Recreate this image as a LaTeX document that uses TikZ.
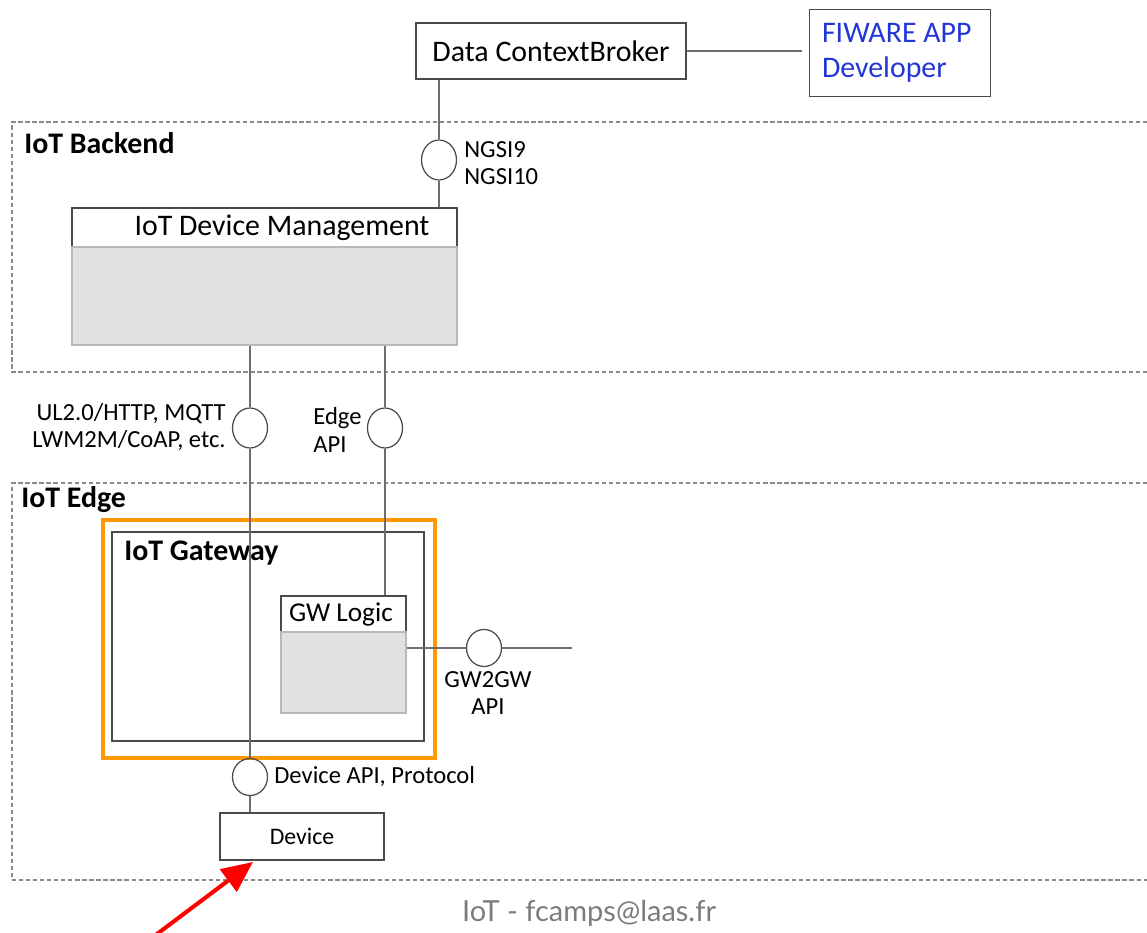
\documentclass[tikz,border=0pt]{standalone}
\usepackage{fontspec}
\setmainfont{Carlito}
\newfontfamily\footfont{Lato}
\usepackage{tikz}
\usetikzlibrary{arrows.meta,shapes.geometric,calc}
\definecolor{boxline}{HTML}{4A4A4A}
\definecolor{wire}{HTML}{6E6E6E}
\definecolor{zoneline}{HTML}{8A8A8A}
\definecolor{bodygray}{HTML}{E1E1E1}
\definecolor{bodyline}{HTML}{B8B8B8}
\definecolor{gwOrange}{HTML}{FF9A00}
\definecolor{appblue}{HTML}{2236D8}
\definecolor{footgray}{HTML}{7C7C7C}

\begin{document}
\begin{tikzpicture}[x=0.02cm,y=-0.02cm,
		box/.style={draw=boxline,line width=0.9pt,inner sep=0pt,font=\fontsize{17}{20}\selectfont},
		body/.style={box,draw=bodyline,fill=bodygray},
		itf/.style={ellipse,draw=boxline,line width=0.7pt,inner sep=0pt,minimum width=0.7cm,minimum height=0.8cm},
		lbl/.style={inner sep=0pt,font=\fontsize{14}{15.5}\selectfont},
		ttl/.style={inner sep=0pt,font=\bfseries\fontsize{17}{20}\selectfont},
		zone/.style={draw=zoneline,line width=0.9pt,dash pattern=on 2.4pt off 1.6pt},
		ln/.style={draw=wire,line width=0.6pt}
		]
		\useasboundingbox (0,0) rectangle (1147,933);

		% Zones
		\draw[zone] (1147,122) -| (12,372) -- (1147,372);
		\draw[zone] (1147,483) -| (12,880) -- (1147,880);
		\node[ttl,anchor=west] (tback) at (24,143) {IoT Backend};
		\node[ttl,anchor=west] (tedge) at (21,500) {IoT Edge};

		% Context broker and app
		\node[box,minimum width=5.4cm,minimum height=1.12cm] (broker) at (551,51) {Data ContextBroker};
		\node[box,minimum width=3.62cm,minimum height=1.74cm,text width=3.12cm,align=flush left,text=appblue] (app) at (900,53) {FIWARE APP\\Developer};
		\draw[ln,shorten >=0.14cm] (broker.east) -- (broker.east -| app.west);

		% Backend
		\node[itf] (ngsi) at (439,160) {};
		\node[lbl,anchor=west,align=flush left] (ngsilbl) at (464,163) {NGSI9\\NGSI10};
		\node[box,minimum width=7.7cm,minimum height=0.78cm,text width=6.6cm,align=flush right] (dmh) at (264.5,227.5) {IoT Device Management};
		\node[body,minimum width=7.7cm,minimum height=1.96cm] (dmb) at (264.5,296) {};
		\draw[ln] (ngsi.north |- broker.south) -- (ngsi.north);
		\draw[ln] (ngsi.south) -- (ngsi.south |- dmh.north);

		% Southbound interfaces
		\node[itf] (ul) at (250,428) {};
		\node[itf] (edgeapi) at (385,428) {};
		\node[lbl,anchor=east,align=flush right] (ullbl) at (226,427) {UL2.0/HTTP, MQTT\\LWM2M/CoAP, etc.};
		\node[lbl,anchor=west,align=flush left] (edgelbl) at (313,430) {Edge\\API};

		% Gateway
		\node[draw=gwOrange,line width=2.3pt,minimum width=6.64cm,minimum height=4.76cm,inner sep=0pt] (hl) at (269,639) {};
		\node[box,minimum width=6.24cm,minimum height=4.18cm] (gw) at (268,636.5) {};
		\node[ttl,anchor=west] (gwlbl) at (124,553) {IoT Gateway};
		\node[box,minimum width=2.5cm,minimum height=0.72cm,text width=2.18cm,align=flush left,font=\fontsize{15.5}{18}\selectfont] (gwh) at (343.5,614) {GW Logic};
		\node[body,minimum width=2.5cm,minimum height=1.62cm] (gwb) at (343.5,672.5) {};
		\node[itf,minimum height=0.74cm] (gg) at (484,648) {};
		\node[lbl,align=center] (gglbl) at (488,693) {GW2GW\\API};
		\coordinate (ggend) at (572,648);
		\draw[ln] (gg.west -| gwb.east) -- (gg.west);
		\draw[ln] (gg.east) -- (ggend);

		% Device
		\node[itf,minimum height=0.74cm] (dapi) at (250,777) {};
		\node[lbl,anchor=west] (dapilbl) at (274,777) {Device API, Protocol};
		\node[box,minimum width=3.28cm,minimum height=0.94cm,font=\fontsize{13.5}{16}\selectfont] (dev) at (302,836.5) {Device};
		\draw[ln] (ul.north |- dmb.south) -- (ul.north);
		\draw[ln] (ul.south) -- (dapi.north);
		\draw[ln] (dapi.south) -- (dapi.south |- dev.north);
		\draw[ln] (edgeapi.north |- dmb.south) -- (edgeapi.north);
		\draw[ln] (edgeapi.south) -- (edgeapi.south |- gwh.north);

		% Pointer and footer
		\coordinate (arrtail) at (153,937);
		\coordinate (arrtip) at (253,862);
		\draw[-{Triangle[length=0.62cm,width=0.55cm]},red,line width=2.3pt] (arrtail) -- (arrtip);
		\node[inner sep=0pt,text=footgray,font=\footfont\fontsize{16.5}{19}\selectfont] (foot) at (589,913) {IoT - fcamps@laas.fr};
	\end{tikzpicture}
\end{document}
